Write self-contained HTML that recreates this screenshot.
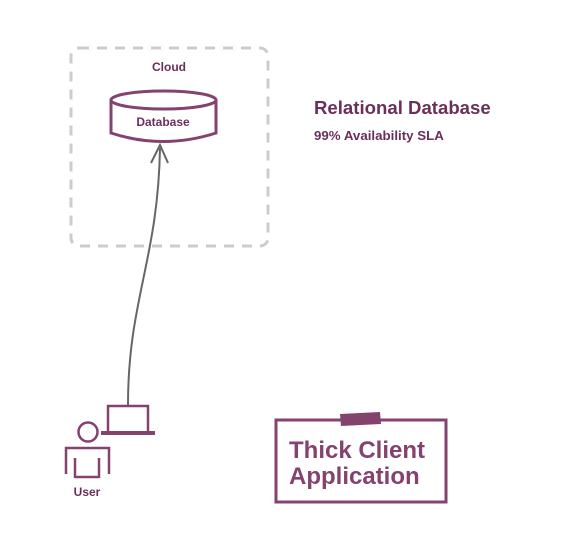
<!DOCTYPE html>
<html><head><style>
html,body{margin:0;padding:0;background:#fff;}
svg{display:block;font-family:"Liberation Sans",sans-serif;font-weight:bold;}
</style></head><body>
<svg width="578" height="557" viewBox="0 0 578 557">
<rect x="71" y="48" width="197" height="198" rx="8" fill="none" stroke="#cccccc" stroke-width="3" stroke-dasharray="10,8"/>
<text x="169" y="71" text-anchor="middle" font-size="12" fill="#6b2f5b">Cloud</text>
<path d="M111 100 L111 133 Q163 150 216 133 L216 100" fill="#fff" stroke="#84426f" stroke-width="3"/>
<ellipse cx="163.5" cy="100" rx="52.5" ry="9" fill="#fff" stroke="#84426f" stroke-width="3"/>
<text x="163" y="126" text-anchor="middle" font-size="12" fill="#6b2f5b">Database</text>
<path d="M128 405 C128 300 158 260 160 148" fill="none" stroke="#666" stroke-width="2"/>
<path d="M151 163 L160 145 L168 163" fill="none" stroke="#666" stroke-width="2"/>
<text x="314" y="114" font-size="18.6" fill="#6b2f5b">Relational Database</text>
<text x="314" y="140" font-size="13.3" fill="#6b2f5b">99% Availability SLA</text>
<rect x="108" y="406" width="40" height="27" fill="#fff" stroke="#84426f" stroke-width="2.5"/>
<rect x="101" y="431" width="54" height="4" fill="#84426f"/>
<circle cx="88" cy="432" r="9.5" fill="none" stroke="#84426f" stroke-width="2.5"/>
<path d="M66 474 L66 448 L109 448 L109 474 M75 478 L75 458 M99 458 L99 478 M75 477 L99 477" fill="none" stroke="#84426f" stroke-width="2.5"/>
<text x="87" y="496" text-anchor="middle" font-size="12" fill="#6b2f5b">User</text>
<rect x="276" y="420" width="170" height="82" fill="#fff" stroke="#84426f" stroke-width="3"/>
<path d="M340 414 L380 412 L381 424 L341 426 Z" fill="#84426f"/>
<text x="289" y="458" font-size="24" fill="#84426f">Thick Client</text>
<text x="289" y="484" font-size="24" fill="#84426f">Application</text>
</svg>
</body></html>
